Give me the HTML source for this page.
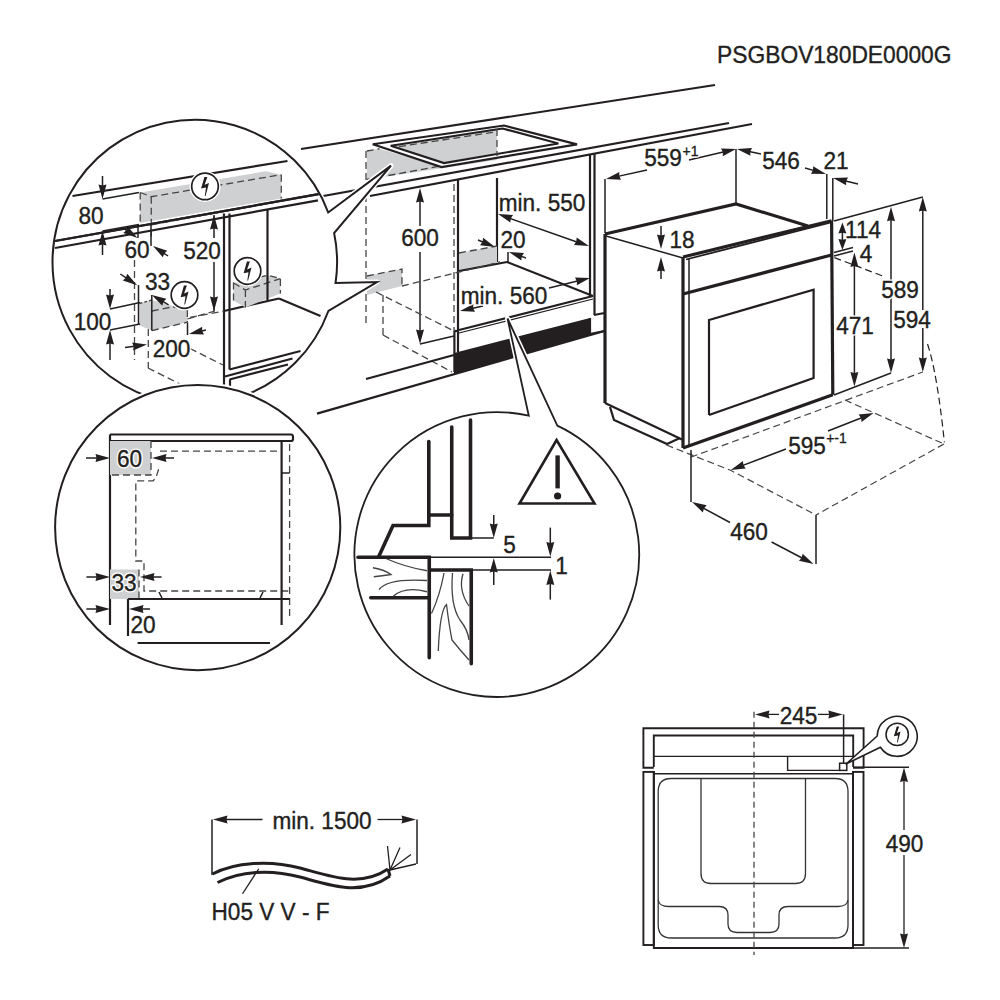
<!DOCTYPE html>
<html><head><meta charset="utf-8"><style>
html,body{margin:0;padding:0;background:#fff;}
svg{display:block;font-family:"Liberation Sans",sans-serif;}
</style></head><body>
<svg width="1000" height="1000" viewBox="0 0 1000 1000">
<rect width="1000" height="1000" fill="#fff"/>
<line x1="301" y1="149" x2="715" y2="85" stroke="#231f20" stroke-width="2.2" stroke-linecap="butt"/>
<line x1="290" y1="202" x2="729" y2="123" stroke="#231f20" stroke-width="2.2" stroke-linecap="butt"/>
<line x1="370" y1="196" x2="752" y2="124" stroke="#231f20" stroke-width="2.2" stroke-linecap="butt"/>
<polygon points="366.75,151 379.5,148.75 441.5,167 497,157 497,160 366.75,179.5" fill="#cfd0d2"/>
<line x1="366.75" y1="151" x2="379.5" y2="148.75" stroke="#454545" stroke-width="1.3" stroke-dasharray="7,4" stroke-linecap="butt"/>
<line x1="366.75" y1="179.5" x2="497" y2="155.5" stroke="#454545" stroke-width="1.3" stroke-dasharray="7,4" stroke-linecap="butt"/>
<polygon points="372.75,144.25 504,125.5 577,144.4 441.5,167" fill="#fff" stroke="#231f20" stroke-width="2.2" stroke-linejoin="miter"/>
<polygon points="390.75,145.75 497,128.3 497,152.8 444,163" fill="#cfd0d2"/>
<polygon points="390.75,145.75 502.5,128.5 558.4,143.5 444,163" fill="none" stroke="#231f20" stroke-width="2.2" stroke-linejoin="miter"/>
<line x1="399" y1="146.6" x2="495" y2="132" stroke="#454545" stroke-width="1.3" stroke-dasharray="7,4" stroke-linecap="butt"/>
<line x1="497" y1="129" x2="497" y2="156" stroke="#454545" stroke-width="1.3" stroke-dasharray="7,4" stroke-linecap="butt"/>
<line x1="366" y1="151" x2="366" y2="323" stroke="#454545" stroke-width="1.3" stroke-dasharray="7,4" stroke-linecap="butt"/>
<line x1="458" y1="180" x2="458" y2="352" stroke="#231f20" stroke-width="2.2" stroke-linecap="butt"/>
<line x1="497" y1="178" x2="497" y2="262" stroke="#231f20" stroke-width="2.2" stroke-linecap="butt"/>
<line x1="590" y1="154" x2="590" y2="296" stroke="#231f20" stroke-width="2.2" stroke-linecap="butt"/>
<line x1="594.5" y1="153" x2="594.5" y2="315" stroke="#231f20" stroke-width="2.2" stroke-linecap="butt"/>
<line x1="590" y1="318" x2="590" y2="335" stroke="#231f20" stroke-width="2.2" stroke-linecap="butt"/>
<line x1="454" y1="184" x2="454" y2="331" stroke="#454545" stroke-width="1.3" stroke-dasharray="7,4" stroke-linecap="butt"/>
<line x1="454.4" y1="331" x2="454.4" y2="372" stroke="#231f20" stroke-width="2.2" stroke-linecap="butt"/>
<line x1="454.4" y1="331" x2="459" y2="331" stroke="#231f20" stroke-width="2.2" stroke-linecap="butt"/>
<polygon points="459,253 497,246 497,264 459,271" fill="#cfd0d2"/>
<line x1="459" y1="253" x2="497" y2="246" stroke="#454545" stroke-width="1.3" stroke-dasharray="7,4" stroke-linecap="butt"/>
<line x1="459" y1="271" x2="507" y2="262" stroke="#231f20" stroke-width="2.2" stroke-linecap="butt"/>
<line x1="507" y1="262" x2="593" y2="296" stroke="#231f20" stroke-width="2.2" stroke-linecap="butt"/>
<line x1="459" y1="330" x2="593" y2="296" stroke="#231f20" stroke-width="2.2" stroke-linecap="butt"/>
<line x1="459" y1="333" x2="593" y2="299" stroke="#231f20" stroke-width="1.2" stroke-linecap="butt"/>
<polygon points="454,353 590,318 590,335.2 454,374.2" fill="#231f20"/>
<line x1="594" y1="315" x2="604.5" y2="313" stroke="#231f20" stroke-width="2.2" stroke-linecap="butt"/>
<line x1="590" y1="334" x2="604.5" y2="331" stroke="#231f20" stroke-width="2.2" stroke-linecap="butt"/>
<line x1="503" y1="216" x2="584" y2="244.5" stroke="#231f20" stroke-width="1.5" stroke-linecap="butt"/>
<polygon points="498,214 513.01,215.04 510.72,218.47 510.35,222.58" fill="#231f20"/>
<polygon points="589,246 573.99,244.96 576.28,241.53 576.65,237.42" fill="#231f20"/>
<line x1="478" y1="240" x2="486.95530054326997" y2="243.68747669428762" stroke="#231f20" stroke-width="1.5" stroke-linecap="butt"/>
<polygon points="495,247 480.07,245.18 482.53,241.87 483.12,237.78" fill="#231f20"/>
<line x1="526" y1="258" x2="517.2040159021711" y2="254.8955350242957" stroke="#231f20" stroke-width="1.5" stroke-linecap="butt"/>
<polygon points="509,252 524.0,253.05 521.72,256.49 521.34,260.6" fill="#231f20"/>
<line x1="508" y1="252" x2="508" y2="262" stroke="#231f20" stroke-width="1.5" stroke-linecap="butt"/>
<line x1="483" y1="306" x2="468.50143436612836" y2="309.15186209431994" stroke="#231f20" stroke-width="1.5" stroke-linecap="butt"/>
<polygon points="460,311 473.32,304.01 473.18,308.14 475.02,311.83" fill="#231f20"/>
<line x1="549" y1="288" x2="581.5477730525868" y2="280.06151876766177" stroke="#231f20" stroke-width="1.5" stroke-linecap="butt"/>
<polygon points="590,278 576.86,285.32 576.9,281.2 574.97,277.55" fill="#231f20"/>
<line x1="420" y1="226" x2="420.0" y2="196.7" stroke="#231f20" stroke-width="1.5" stroke-linecap="butt"/>
<polygon points="420,188 424.0,202.5 420.0,201.49 416.0,202.5" fill="#231f20"/>
<line x1="420" y1="252" x2="420.0" y2="335.3" stroke="#231f20" stroke-width="1.5" stroke-linecap="butt"/>
<polygon points="420,344 416.0,329.5 420.0,330.51 424.0,329.5" fill="#231f20"/>
<line x1="420" y1="344" x2="454" y2="336" stroke="#231f20" stroke-width="1.5" stroke-linecap="butt"/>
<polygon points="367,276 402,269 402,286 367,295" fill="#cfd0d2"/>
<polyline points="367,276 402,269 402,286" fill="none" stroke="#454545" stroke-width="1.3" stroke-dasharray="7,4" stroke-linejoin="miter"/>
<line x1="402" y1="286" x2="500" y2="262" stroke="#454545" stroke-width="1.3" stroke-dasharray="7,4" stroke-linecap="butt"/>
<line x1="376" y1="292" x2="452" y2="330" stroke="#454545" stroke-width="1.3" stroke-dasharray="7,4" stroke-linecap="butt"/>
<line x1="383" y1="295" x2="383" y2="335" stroke="#454545" stroke-width="1.3" stroke-dasharray="7,4" stroke-linecap="butt"/>
<line x1="383" y1="335" x2="452" y2="372" stroke="#454545" stroke-width="1.3" stroke-dasharray="7,4" stroke-linecap="butt"/>
<line x1="366" y1="379" x2="454" y2="355" stroke="#231f20" stroke-width="2.2" stroke-linecap="butt"/>
<line x1="317" y1="413.6" x2="604.5" y2="331" stroke="#231f20" stroke-width="2.2" stroke-linecap="butt"/>
<polyline points="605,234 736,204 808,226" fill="none" stroke="#231f20" stroke-width="3.2" stroke-linejoin="miter"/>
<line x1="605" y1="234" x2="605" y2="403" stroke="#231f20" stroke-width="3.2" stroke-linecap="butt"/>
<line x1="606" y1="236" x2="683" y2="258" stroke="#231f20" stroke-width="1.5" stroke-linecap="butt"/>
<line x1="661" y1="226" x2="661.0" y2="240.3" stroke="#231f20" stroke-width="1.5" stroke-linecap="butt"/>
<polygon points="661,249 657.0,234.5 661.0,235.51 665.0,234.5" fill="#231f20"/>
<line x1="661" y1="279" x2="661.0" y2="265.7" stroke="#231f20" stroke-width="1.5" stroke-linecap="butt"/>
<polygon points="661,257 665.0,271.5 661.0,270.49 657.0,271.5" fill="#231f20"/>
<line x1="683" y1="257" x2="831.6" y2="220.7" stroke="#231f20" stroke-width="3.2" stroke-linecap="butt"/>
<line x1="683" y1="257" x2="683" y2="448" stroke="#231f20" stroke-width="3.2" stroke-linecap="butt"/>
<line x1="689" y1="259" x2="689" y2="447" stroke="#231f20" stroke-width="1.5" stroke-linecap="butt"/>
<line x1="686" y1="259.5" x2="831" y2="222.3" stroke="#231f20" stroke-width="1.8" stroke-linecap="butt"/>
<line x1="831.6" y1="220.7" x2="832.8" y2="394.8" stroke="#231f20" stroke-width="3.2" stroke-linecap="butt"/>
<line x1="683" y1="294" x2="831.6" y2="255" stroke="#231f20" stroke-width="3.2" stroke-linecap="butt"/>
<line x1="683" y1="448" x2="832.8" y2="394.8" stroke="#231f20" stroke-width="3.2" stroke-linecap="butt"/>
<polyline points="709,415 709,320 813.6,289.6 813.6,378 709,415" fill="none" stroke="#231f20" stroke-width="2.2" stroke-linejoin="miter"/>
<polyline points="610,407 614,420 667,444 680,438" fill="none" stroke="#231f20" stroke-width="2.2" stroke-linejoin="miter"/>
<line x1="605" y1="403" x2="682" y2="439.5" stroke="#231f20" stroke-width="2.2" stroke-linecap="butt"/>
<line x1="605" y1="179" x2="605" y2="233" stroke="#231f20" stroke-width="1.5" stroke-linecap="butt"/>
<line x1="647" y1="170" x2="614.4976757855953" y2="177.1346565348693" stroke="#231f20" stroke-width="1.5" stroke-linecap="butt"/>
<polygon points="606,179 619.31,171.98 619.17,176.11 621.02,179.8" fill="#231f20"/>
<line x1="689" y1="160" x2="727.5289128444712" y2="150.9825948661876" stroke="#231f20" stroke-width="1.5" stroke-linecap="butt"/>
<polygon points="736,149 722.79,156.2 722.87,152.07 720.97,148.41" fill="#231f20"/>
<line x1="736" y1="149" x2="736" y2="203" stroke="#231f20" stroke-width="1.5" stroke-linecap="butt"/>
<line x1="761" y1="154" x2="745.5171296517171" y2="150.7744020107744" stroke="#231f20" stroke-width="1.5" stroke-linecap="butt"/>
<polygon points="737,149 752.01,148.04 750.2,151.75 750.38,155.87" fill="#231f20"/>
<line x1="805" y1="168" x2="817.6347416555249" y2="171.6099261872928" stroke="#231f20" stroke-width="1.5" stroke-linecap="butt"/>
<polygon points="826,174 810.96,173.86 813.03,170.3 813.16,166.17" fill="#231f20"/>
<line x1="826.8" y1="174" x2="826.8" y2="219" stroke="#231f20" stroke-width="1.5" stroke-linecap="butt"/>
<line x1="858" y1="184" x2="841.4597695272305" y2="180.03034468653533" stroke="#231f20" stroke-width="1.5" stroke-linecap="butt"/>
<polygon points="833,178 848.03,177.49 846.11,181.15 846.17,185.27" fill="#231f20"/>
<line x1="832.8" y1="178" x2="832.8" y2="221" stroke="#231f20" stroke-width="1.5" stroke-linecap="butt"/>
<line x1="842.4" y1="236" x2="842.4" y2="229.0" stroke="#231f20" stroke-width="1.5" stroke-linecap="butt"/>
<polygon points="842.4,222.4 846.4,233.4 842.4,232.63 838.4,233.4" fill="#231f20"/>
<line x1="842.4" y1="236" x2="842.4" y2="243.4" stroke="#231f20" stroke-width="1.5" stroke-linecap="butt"/>
<polygon points="842.4,250 838.4,239.0 842.4,239.77 846.4,239.0" fill="#231f20"/>
<line x1="834" y1="252.4" x2="853" y2="247.6" stroke="#231f20" stroke-width="1.5" stroke-linecap="butt"/>
<line x1="834" y1="256" x2="853" y2="251" stroke="#231f20" stroke-width="1.5" stroke-linecap="butt"/>
<line x1="854.4" y1="316" x2="854.4" y2="261.1" stroke="#231f20" stroke-width="1.5" stroke-linecap="butt"/>
<polygon points="854.4,252.4 858.4,266.9 854.4,265.88 850.4,266.9" fill="#231f20"/>
<line x1="854.4" y1="333" x2="854.4" y2="377.7" stroke="#231f20" stroke-width="1.5" stroke-linecap="butt"/>
<polygon points="854.4,386.4 850.4,371.9 854.4,372.91 858.4,371.9" fill="#231f20"/>
<line x1="834" y1="221" x2="922.8" y2="197" stroke="#231f20" stroke-width="1.5" stroke-linecap="butt"/>
<line x1="891" y1="281" x2="891.0" y2="215.5" stroke="#231f20" stroke-width="1.5" stroke-linecap="butt"/>
<polygon points="891,206.8 895.0,221.3 891.0,220.29 887.0,221.3" fill="#231f20"/>
<line x1="891" y1="298" x2="891.0" y2="364.3" stroke="#231f20" stroke-width="1.5" stroke-linecap="butt"/>
<polygon points="891,373 887.0,358.5 891.0,359.51 895.0,358.5" fill="#231f20"/>
<line x1="922.8" y1="310" x2="922.8" y2="205.7" stroke="#231f20" stroke-width="1.5" stroke-linecap="butt"/>
<polygon points="922.8,197 926.8,211.5 922.8,210.49 918.8,211.5" fill="#231f20"/>
<line x1="922.8" y1="328" x2="922.8" y2="363.3" stroke="#231f20" stroke-width="1.5" stroke-linecap="butt"/>
<polygon points="922.8,372 918.8,357.5 922.8,358.51 926.8,357.5" fill="#231f20"/>
<line x1="834" y1="395" x2="891" y2="373" stroke="#231f20" stroke-width="1.5" stroke-linecap="butt"/>
<line x1="690.8" y1="457.2" x2="922.8" y2="372" stroke="#454545" stroke-width="1.2" stroke-dasharray="7,4" stroke-linecap="butt"/>
<path d="M834.4,257.6 L884,276.5 M927.5,344 Q937,372 944.4,442.4" fill="none" stroke="#231f20" stroke-width="1.2" stroke-dasharray="7,4"/>
<line x1="845" y1="400" x2="944" y2="444" stroke="#454545" stroke-width="1.2" stroke-dasharray="7,4" stroke-linecap="butt"/>
<line x1="944" y1="444" x2="816" y2="515" stroke="#454545" stroke-width="1.2" stroke-dasharray="7,4" stroke-linecap="butt"/>
<polyline points="666.5,445 731,470.5 816,515" fill="none" stroke="#454545" stroke-width="1.2" stroke-dasharray="7,4" stroke-linejoin="miter"/>
<line x1="691" y1="450" x2="691" y2="502" stroke="#231f20" stroke-width="1.5" stroke-linecap="butt"/>
<line x1="816" y1="515" x2="816" y2="564" stroke="#231f20" stroke-width="1.5" stroke-linecap="butt"/>
<line x1="828" y1="431" x2="865.5076495744175" y2="416.19434885220363" stroke="#231f20" stroke-width="1.5" stroke-linecap="butt"/>
<polygon points="873.6,413 861.58,422.04 861.06,417.95 858.64,414.6" fill="#231f20"/>
<line x1="786" y1="449" x2="738.9314426254012" y2="466.90651639251035" stroke="#231f20" stroke-width="1.5" stroke-linecap="butt"/>
<polygon points="730.8,470 742.93,461.11 743.4,465.21 745.77,468.58" fill="#231f20"/>
<line x1="771.6" y1="542" x2="805.8932656430627" y2="559.9631391463662" stroke="#231f20" stroke-width="1.5" stroke-linecap="butt"/>
<polygon points="813.6,564 798.9,560.82 801.65,557.74 802.61,553.73" fill="#231f20"/>
<line x1="730" y1="522.5" x2="699.6568611801852" y2="506.1306751103631" stroke="#231f20" stroke-width="1.5" stroke-linecap="butt"/>
<polygon points="692,502 706.66,505.36 703.87,508.4 702.86,512.4" fill="#231f20"/>
<path d="M334.11,233 A142.3,142.3 0 0 1 335.54,283 L377,282 L328.4,311 A142.3,142.3 0 1 1 328.21,212.5 L391,165.6 Z" fill="#fff" stroke="#fff" stroke-width="5" stroke-linejoin="round"/>
<clipPath id="c1clip"><path d="M334.11,233 A142.3,142.3 0 0 1 335.54,283 L377,282 L328.4,311 A142.3,142.3 0 1 1 328.21,212.5 L391,165.6 Z"/></clipPath>
<g clip-path="url(#c1clip)">
<line x1="72.5" y1="196" x2="287.5" y2="161" stroke="#231f20" stroke-width="2.2" stroke-linecap="butt"/>
<line x1="55" y1="241" x2="318.5" y2="194.2" stroke="#231f20" stroke-width="2.2" stroke-linecap="butt"/>
<line x1="55" y1="248" x2="318" y2="200.3" stroke="#231f20" stroke-width="2.2" stroke-linecap="butt"/>
<polygon points="140.2,192.5 266,171.25 281.3,174.65 281.3,198.45 140.2,223" fill="#cfd0d2"/>
<line x1="140.2" y1="192.5" x2="140.2" y2="223" stroke="#454545" stroke-width="1.3" stroke-dasharray="7,4" stroke-linecap="butt"/>
<line x1="281.3" y1="174.65" x2="281.3" y2="198.45" stroke="#454545" stroke-width="1.3" stroke-dasharray="7,4" stroke-linecap="butt"/>
<polyline points="140.2,192.5 151.25,196.75 281.3,174.65" fill="none" stroke="#454545" stroke-width="1.3" stroke-dasharray="7,4" stroke-linejoin="miter"/>
<line x1="151.25" y1="196.75" x2="151.25" y2="238" stroke="#454545" stroke-width="1.3" stroke-dasharray="7,4" stroke-linecap="butt"/>
<line x1="151.25" y1="224.8" x2="281.3" y2="201" stroke="#454545" stroke-width="1.3" stroke-dasharray="7,4" stroke-linecap="butt"/>
<line x1="55" y1="241" x2="318.5" y2="194.2" stroke="#231f20" stroke-width="2.2" stroke-linecap="butt"/>
<circle cx="205" cy="186.4" r="15.5" fill="#fff"/>
<circle cx="205" cy="186.4" r="13.3" fill="#fff" stroke="#231f20" stroke-width="1.7"/>
<polygon points="204.4,177.0 207.4,177.0 204.6,184.8 209.0,183.0 205.6,196.0 204.8,196.0 206.0,187.6 201.1,188.6" fill="#231f20"/>
<line x1="102.5" y1="176" x2="102.5" y2="190.3" stroke="#231f20" stroke-width="1.5" stroke-linecap="butt"/>
<polygon points="102.5,199 98.5,184.5 102.5,185.51 106.5,184.5" fill="#231f20"/>
<line x1="102.5" y1="199" x2="139" y2="192.5" stroke="#231f20" stroke-width="1.5" stroke-linecap="butt"/>
<line x1="102.5" y1="255" x2="102.5" y2="239.7" stroke="#231f20" stroke-width="1.5" stroke-linecap="butt"/>
<polygon points="102.5,231 106.5,245.5 102.5,244.49 98.5,245.5" fill="#231f20"/>
<line x1="102.5" y1="231" x2="139" y2="224.5" stroke="#231f20" stroke-width="1.5" stroke-linecap="butt"/>
<line x1="123" y1="228" x2="130.33804876253683" y2="233.06072328450816" stroke="#231f20" stroke-width="1.5" stroke-linecap="butt"/>
<polygon points="137.5,238 123.29,233.06 126.4,230.34 127.83,226.48" fill="#231f20"/>
<line x1="138" y1="225" x2="138" y2="238" stroke="#231f20" stroke-width="1.5" stroke-linecap="butt"/>
<line x1="168" y1="256" x2="160.23883756073923" y2="250.82589170715949" stroke="#231f20" stroke-width="1.5" stroke-linecap="butt"/>
<polygon points="153,246 167.28,250.71 164.22,253.48 162.85,257.37" fill="#231f20"/>
<line x1="151" y1="225" x2="151" y2="246" stroke="#231f20" stroke-width="1.5" stroke-linecap="butt"/>
<line x1="214" y1="215" x2="214" y2="238" stroke="#231f20" stroke-width="1.5" stroke-linecap="butt"/>
<polygon points="214,215 218.0,229.5 214.0,228.49 210.0,229.5" fill="#231f20"/>
<line x1="214" y1="262" x2="214" y2="311" stroke="#231f20" stroke-width="1.5" stroke-linecap="butt"/>
<polygon points="214,311 210.0,296.5 214.0,297.51 218.0,296.5" fill="#231f20"/>
<line x1="224" y1="213.5" x2="224" y2="385" stroke="#231f20" stroke-width="2.2" stroke-linecap="butt"/>
<line x1="229.5" y1="213.5" x2="229.5" y2="369.5" stroke="#231f20" stroke-width="2.2" stroke-linecap="butt"/>
<line x1="230" y1="379.5" x2="230" y2="386.5" stroke="#231f20" stroke-width="2.2" stroke-linecap="butt"/>
<line x1="224" y1="311" x2="279" y2="298.5" stroke="#231f20" stroke-width="2.2" stroke-linecap="butt"/>
<line x1="279" y1="298.5" x2="320.5" y2="316" stroke="#231f20" stroke-width="2.2" stroke-linecap="butt"/>
<line x1="190" y1="317.5" x2="224" y2="311" stroke="#454545" stroke-width="1.3" stroke-dasharray="7,4" stroke-linecap="butt"/>
<polygon points="233.5,283 267.8,275.2 280.4,278.7 280.4,293.4 245.4,307.4 233.5,300.4" fill="#cfd0d2"/>
<polyline points="233.5,300.4 233.5,283 267.8,275.2 280.4,278.7 280.4,293.4" fill="none" stroke="#454545" stroke-width="1.3" stroke-dasharray="7,4" stroke-linejoin="miter"/>
<polyline points="233.5,283 245.4,290 280.4,278.7" fill="none" stroke="#454545" stroke-width="1.3" stroke-dasharray="7,4" stroke-linejoin="miter"/>
<line x1="245.4" y1="290" x2="245.4" y2="307.4" stroke="#454545" stroke-width="1.3" stroke-dasharray="7,4" stroke-linecap="butt"/>
<line x1="267.5" y1="210" x2="267.5" y2="300.4" stroke="#231f20" stroke-width="2.2" stroke-linecap="butt"/>
<circle cx="247.5" cy="271" r="15.3" fill="#fff"/>
<circle cx="247.5" cy="271" r="13.3" fill="#fff" stroke="#231f20" stroke-width="1.7"/>
<polygon points="246.9,261.6 249.9,261.6 247.1,269.4 251.5,267.6 248.1,280.6 247.3,280.6 248.5,272.2 243.6,273.2" fill="#231f20"/>
<line x1="229.5" y1="369.5" x2="300.5" y2="351" stroke="#231f20" stroke-width="2.2" stroke-linecap="butt"/>
<line x1="225" y1="376.5" x2="292.5" y2="358.5" stroke="#231f20" stroke-width="2.2" stroke-linecap="butt"/>
<line x1="229.5" y1="379.5" x2="288" y2="364.5" stroke="#231f20" stroke-width="2.2" stroke-linecap="butt"/>
<line x1="134.5" y1="260" x2="134.5" y2="360" stroke="#454545" stroke-width="1.3" stroke-dasharray="7,4" stroke-linecap="butt"/>
<line x1="148.3" y1="329" x2="148.3" y2="368" stroke="#454545" stroke-width="1.3" stroke-dasharray="7,4" stroke-linecap="butt"/>
<line x1="148" y1="368" x2="181" y2="384.5" stroke="#454545" stroke-width="1.3" stroke-dasharray="7,4" stroke-linecap="butt"/>
<line x1="190" y1="348.5" x2="223" y2="365" stroke="#454545" stroke-width="1.3" stroke-dasharray="7,4" stroke-linecap="butt"/>
<polygon points="139.5,303.5 151.8,300 187.4,310 187.4,322.2 151.8,330.6 139.5,325.5" fill="#cfd0d2"/>
<line x1="139.5" y1="303.5" x2="151.8" y2="300" stroke="#454545" stroke-width="1.3" stroke-dasharray="3,2" stroke-linecap="butt"/>
<line x1="151.8" y1="311" x2="173" y2="306.8" stroke="#454545" stroke-width="1.3" stroke-dasharray="7,4" stroke-linecap="butt"/>
<line x1="173" y1="306.8" x2="187.4" y2="310" stroke="#454545" stroke-width="1.3" stroke-dasharray="7,4" stroke-linecap="butt"/>
<line x1="187.4" y1="310" x2="187.4" y2="322.2" stroke="#454545" stroke-width="1.3" stroke-dasharray="7,4" stroke-linecap="butt"/>
<line x1="151.8" y1="330.6" x2="187.4" y2="322.2" stroke="#454545" stroke-width="1.3" stroke-dasharray="7,4" stroke-linecap="butt"/>
<line x1="151.8" y1="295" x2="151.8" y2="330.6" stroke="#231f20" stroke-width="1.5" stroke-linecap="butt"/>
<line x1="187.4" y1="319" x2="215" y2="311" stroke="#454545" stroke-width="1.3" stroke-dasharray="7,4" stroke-linecap="butt"/>
<circle cx="184.5" cy="295" r="15.5" fill="#fff"/>
<circle cx="184.5" cy="295" r="13.3" fill="#fff" stroke="#231f20" stroke-width="1.7"/>
<polygon points="183.9,285.6 186.9,285.6 184.1,293.4 188.5,291.6 185.1,304.6 184.3,304.6 185.5,296.2 180.6,297.2" fill="#231f20"/>
<line x1="120.3" y1="274" x2="129.86116243926074" y2="280.3741082928405" stroke="#231f20" stroke-width="1.5" stroke-linecap="butt"/>
<polygon points="137.1,285.2 122.82,280.49 125.88,277.72 127.25,273.83" fill="#231f20"/>
<line x1="138.5" y1="285" x2="138.5" y2="325" stroke="#231f20" stroke-width="1.5" stroke-linecap="butt"/>
<line x1="168.6" y1="304.8" x2="159.31487643781637" y2="299.3836779220596" stroke="#231f20" stroke-width="1.5" stroke-linecap="butt"/>
<polygon points="151.8,295 166.34,298.85 163.45,301.79 162.31,305.76" fill="#231f20"/>
<line x1="110" y1="289" x2="110.0" y2="300.3" stroke="#231f20" stroke-width="1.5" stroke-linecap="butt"/>
<polygon points="110,309 106.0,294.5 110.0,295.51 114.0,294.5" fill="#231f20"/>
<line x1="110" y1="309" x2="140" y2="302.5" stroke="#231f20" stroke-width="1.5" stroke-linecap="butt"/>
<line x1="110" y1="360" x2="110.0" y2="338.7" stroke="#231f20" stroke-width="1.5" stroke-linecap="butt"/>
<polygon points="110,330 114.0,344.5 110.0,343.49 106.0,344.5" fill="#231f20"/>
<line x1="110" y1="330" x2="140" y2="324" stroke="#231f20" stroke-width="1.5" stroke-linecap="butt"/>
<line x1="125" y1="347.5" x2="138.3797775380146" y2="345.67548488117984" stroke="#231f20" stroke-width="1.5" stroke-linecap="butt"/>
<polygon points="147,344.5 133.17,350.42 133.64,346.32 132.09,342.5" fill="#231f20"/>
<line x1="206" y1="330" x2="197.4687293645021" y2="332.0073577965877" stroke="#231f20" stroke-width="1.5" stroke-linecap="butt"/>
<polygon points="189,334 202.2,326.79 202.13,330.91 204.03,334.57" fill="#231f20"/>
<line x1="187.5" y1="322.5" x2="187.5" y2="335" stroke="#231f20" stroke-width="1.5" stroke-linecap="butt"/>
</g>
<path d="M334.11,233 A142.3,142.3 0 0 1 335.54,283 L377,282 L328.4,311 A142.3,142.3 0 1 1 328.21,212.5 L391,165.6 Z" fill="none" stroke="#231f20" stroke-width="2"/>
<circle cx="197.7" cy="527.6" r="145.6" fill="#fff"/>
<circle cx="197.7" cy="527.6" r="142.6" fill="#fff" stroke="#231f20" stroke-width="2"/>
<path d="M110,434.5 H291 Q293,434.5 293,437 V439 Q293,441 291,441 H110" fill="none" stroke="#231f20" stroke-width="2.2"/>
<line x1="110" y1="434.5" x2="110" y2="625" stroke="#231f20" stroke-width="2.2" stroke-linecap="butt"/>
<polygon points="110,441 151,441 151,475 110,475" fill="#cfd0d2"/>
<polyline points="151,441 151,475 110,475" fill="none" stroke="#454545" stroke-width="1.3" stroke-dasharray="7,4" stroke-linejoin="miter"/>
<line x1="86" y1="458" x2="101.3" y2="458.0" stroke="#231f20" stroke-width="1.5" stroke-linecap="butt"/>
<polygon points="110,458 95.5,462.0 96.52,458.0 95.5,454.0" fill="#231f20"/>
<line x1="174" y1="458" x2="160.7" y2="458.0" stroke="#231f20" stroke-width="1.5" stroke-linecap="butt"/>
<polygon points="152,458 166.5,454.0 165.49,458.0 166.5,462.0" fill="#231f20"/>
<polyline points="160,451.2 281.6,451.2" fill="none" stroke="#454545" stroke-width="1.3" stroke-dasharray="7,4" stroke-linejoin="miter"/>
<polyline points="158.6,469.2 155.8,478 153,480.8 135.8,480.8 135.8,561 144,561 144,591 290,591" fill="none" stroke="#454545" stroke-width="1.3" stroke-dasharray="7,4" stroke-linejoin="miter"/>
<line x1="281.6" y1="441" x2="281.6" y2="625" stroke="#231f20" stroke-width="2.2" stroke-linecap="butt"/>
<line x1="289.6" y1="444" x2="289.6" y2="620" stroke="#454545" stroke-width="1.3" stroke-dasharray="7,4" stroke-linecap="butt"/>
<line x1="281.6" y1="473" x2="289.6" y2="473" stroke="#231f20" stroke-width="1.5" stroke-linecap="butt"/>
<polygon points="110,569.5 139,569.5 139,599 110,599" fill="#cfd0d2"/>
<polyline points="139,569.5 139,599" fill="none" stroke="#454545" stroke-width="1.3" stroke-dasharray="7,4" stroke-linejoin="miter"/>
<line x1="86.4" y1="577" x2="101.3" y2="577.0" stroke="#231f20" stroke-width="1.5" stroke-linecap="butt"/>
<polygon points="110,577 95.5,581.0 96.52,577.0 95.5,573.0" fill="#231f20"/>
<line x1="161.6" y1="577" x2="148.7" y2="577.0" stroke="#231f20" stroke-width="1.5" stroke-linecap="butt"/>
<polygon points="140,577 154.5,573.0 153.49,577.0 154.5,581.0" fill="#231f20"/>
<line x1="128" y1="599" x2="289.6" y2="599" stroke="#231f20" stroke-width="2.2" stroke-linecap="butt"/>
<line x1="128" y1="599" x2="128" y2="636" stroke="#231f20" stroke-width="2.2" stroke-linecap="butt"/>
<line x1="159" y1="592" x2="162" y2="598" stroke="#231f20" stroke-width="1.5" stroke-linecap="butt"/>
<line x1="263" y1="592" x2="260" y2="598" stroke="#231f20" stroke-width="1.5" stroke-linecap="butt"/>
<line x1="86.4" y1="609" x2="101.3" y2="609.0" stroke="#231f20" stroke-width="1.5" stroke-linecap="butt"/>
<polygon points="110,609 95.5,613.0 96.52,609.0 95.5,605.0" fill="#231f20"/>
<line x1="150" y1="609" x2="137.7" y2="609.0" stroke="#231f20" stroke-width="1.5" stroke-linecap="butt"/>
<polygon points="129,609 143.5,605.0 142.49,609.0 143.5,613.0" fill="#231f20"/>
<line x1="137.6" y1="643" x2="270" y2="643" stroke="#231f20" stroke-width="2.2" stroke-linecap="butt"/>
<path d="M557.3,425.59 A142.4,142.4 0 1 1 528.8,415.74 L507.5,318.5 Z" fill="#fff" stroke="#fff" stroke-width="5" stroke-linejoin="round"/>
<path d="M557.3,425.59 A142.4,142.4 0 1 1 528.8,415.74 L507.5,318.5 Z" fill="#fff" stroke="#231f20" stroke-width="1.8"/>
<polygon points="556.6,440 519.5,503.5 594.5,503.5" fill="none" stroke="#231f20" stroke-width="2.6" stroke-linejoin="miter"/>
<rect x="555.4" y="455.4" width="4.4" height="33" fill="#231f20"/>
<circle cx="557.6" cy="496" r="3.6" fill="#231f20"/>
<g fill="none" stroke="#231f20" stroke-width="3.6" stroke-linecap="round" stroke-linejoin="miter">
<polyline points="428.8,441.5 428.8,525.5 393,525.5 379,556"/>
<polyline points="428.8,515 451.75,515"/>
<polyline points="451.75,427 451.75,538 470.5,538 470.5,420"/>
<polyline points="358,557.25 429.25,557.25 429.25,657.75"/>
<polyline points="370.75,597.75 429.25,597.75"/>
<polyline points="430.75,570 471.25,570 471.25,663.75"/>
</g>
<g fill="none" stroke="#444" stroke-width="1.3">
<path d="M386.5,558.75 Q405,567 427,570.75"/>
<path d="M373,567.75 Q385,570 391,574.5 Q382,576 373.75,576.75"/>
<path d="M379,589.5 Q388,578 427,580.5"/>
<path d="M393.25,596.25 Q405,586 427,591.75"/>
<path d="M444,573 Q440,595 431.5,613.5"/>
<path d="M452.5,573 Q450,605 460,620 Q468,630 469,640"/>
<path d="M463,573.75 Q458,590 469,606"/>
<path d="M438.25,651 Q440,610 446.5,604.5 Q449,625 452,640 Q460,650 469,660"/>
</g>
<line x1="470.5" y1="538" x2="493.75" y2="538" stroke="#231f20" stroke-width="1.5" stroke-linecap="butt"/>
<line x1="493.75" y1="515" x2="493.75" y2="529.3" stroke="#231f20" stroke-width="1.5" stroke-linecap="butt"/>
<polygon points="493.75,538 489.75,523.5 493.75,524.51 497.75,523.5" fill="#231f20"/>
<line x1="493.75" y1="585" x2="493.75" y2="566.7" stroke="#231f20" stroke-width="1.5" stroke-linecap="butt"/>
<polygon points="493.75,558 497.75,572.5 493.75,571.49 489.75,572.5" fill="#231f20"/>
<line x1="429.25" y1="557.25" x2="551" y2="557.25" stroke="#231f20" stroke-width="1.5" stroke-linecap="butt"/>
<line x1="471.25" y1="570" x2="551" y2="570" stroke="#231f20" stroke-width="1.5" stroke-linecap="butt"/>
<line x1="550.3" y1="527.6" x2="550.3" y2="547.9" stroke="#231f20" stroke-width="1.5" stroke-linecap="butt"/>
<polygon points="550.3,556.6 546.3,542.1 550.3,543.12 554.3,542.1" fill="#231f20"/>
<line x1="550.3" y1="599.6" x2="550.3" y2="579.3000000000001" stroke="#231f20" stroke-width="1.5" stroke-linecap="butt"/>
<polygon points="550.3,570.6 554.3,585.1 550.3,584.09 546.3,585.1" fill="#231f20"/>
<line x1="212" y1="819.5" x2="212" y2="875" stroke="#231f20" stroke-width="1.5" stroke-linecap="butt"/>
<line x1="417" y1="819.5" x2="417" y2="864" stroke="#231f20" stroke-width="1.5" stroke-linecap="butt"/>
<line x1="262.5" y1="819.5" x2="221.7" y2="819.5" stroke="#231f20" stroke-width="1.3" stroke-linecap="butt"/>
<polygon points="213,819.5 227.5,815.5 226.49,819.5 227.5,823.5" fill="#231f20"/>
<line x1="377.5" y1="819.5" x2="407.3" y2="819.5" stroke="#231f20" stroke-width="1.3" stroke-linecap="butt"/>
<polygon points="416,819.5 401.5,823.5 402.51,819.5 401.5,815.5" fill="#231f20"/>
<path d="M212.5,874 C235,862 270,860 300,868 S360,888 388,869" fill="none" stroke="#231f20" stroke-width="3"/>
<path d="M217.5,882.5 C240,871 270,869 300,877 S360,897 390,876" fill="none" stroke="#231f20" stroke-width="3"/>
<line x1="388" y1="869" x2="390" y2="876" stroke="#231f20" stroke-width="3" stroke-linecap="butt"/>
<polyline points="387.5,846 390,870 400,847.5" fill="none" stroke="#231f20" stroke-width="1.3" stroke-linejoin="miter"/>
<polyline points="411,854.5 390,870 416,864" fill="none" stroke="#231f20" stroke-width="1.3" stroke-linejoin="miter"/>
<line x1="258.75" y1="868.75" x2="242.5" y2="893.75" stroke="#231f20" stroke-width="1.3" stroke-linecap="butt"/>
<g fill="none" stroke="#231f20" stroke-width="1.9">
<path d="M653.8,767.8 H643.4 V728.2 H863.6 V767.8 H853"/>
<path d="M653.8,767 V735.5 H853.2 V767"/>
<rect x="643.4" y="771.9" width="10.4" height="173.1"/>
<rect x="853" y="771.9" width="10.5" height="173.1"/>
<path d="M653.8,771 V948 H853 V771"/>
</g>
<line x1="653.8" y1="756.4" x2="853.2" y2="756.4" stroke="#231f20" stroke-width="1.4" stroke-linecap="butt"/>
<line x1="653.8" y1="773.8" x2="853.2" y2="773.8" stroke="#231f20" stroke-width="1.6" stroke-linecap="butt"/>
<polyline points="787.6,756.4 787.6,770.4 846.8,770.4" fill="none" stroke="#231f20" stroke-width="1.4" stroke-linejoin="miter"/>
<rect x="839.6" y="763.2" width="7.2" height="7.2" fill="#fff" stroke="#231f20" stroke-width="1.5"/>
<g fill="none" stroke="#333" stroke-width="1.3">
<path d="M658.2,791.6 Q658.2,778.5 671.2,778.5 H835 Q848,778.5 848,791.6 V925 Q848,938 835,938 H671.2 Q658.2,938 658.2,925 Z"/>
<path d="M701,778.5 V873.5 Q701,883.5 711,883.5 H795.5 Q805.5,883.5 805.5,873.5 V778.5"/>
<path d="M658.2,900 Q659,906.5 669,906.5 H719 Q728,906.5 728,915 V924 Q728,932.5 737,932.5 H770 Q779,932.5 779,924 V915 Q779,906.5 788,906.5 H838 Q847,906.5 848,900"/>
</g>
<line x1="754" y1="711.7" x2="754" y2="955" stroke="#454545" stroke-width="1.3" stroke-dasharray="6,4" stroke-linecap="butt"/>
<line x1="779" y1="714.4" x2="763.7" y2="714.4" stroke="#231f20" stroke-width="1.3" stroke-linecap="butt"/>
<polygon points="755,714.4 769.5,710.4 768.49,714.4 769.5,718.4" fill="#231f20"/>
<line x1="818" y1="714.4" x2="834.0999999999999" y2="714.4" stroke="#231f20" stroke-width="1.3" stroke-linecap="butt"/>
<polygon points="842.8,714.4 828.3,718.4 829.31,714.4 828.3,710.4" fill="#231f20"/>
<line x1="843.6" y1="714.4" x2="843.6" y2="763.2" stroke="#231f20" stroke-width="1.5" stroke-linecap="butt"/>
<line x1="853" y1="767.2" x2="909" y2="767.2" stroke="#231f20" stroke-width="1.5" stroke-linecap="butt"/>
<line x1="853" y1="948" x2="909" y2="948" stroke="#231f20" stroke-width="1.5" stroke-linecap="butt"/>
<line x1="904" y1="830" x2="904.0" y2="776.2" stroke="#231f20" stroke-width="1.3" stroke-linecap="butt"/>
<polygon points="904,767.5 908.0,782.0 904.0,780.99 900.0,782.0" fill="#231f20"/>
<line x1="904" y1="855" x2="904.0" y2="939.3" stroke="#231f20" stroke-width="1.3" stroke-linecap="butt"/>
<polygon points="904,948 900.0,933.5 904.0,934.51 908.0,933.5" fill="#231f20"/>
<path d="M846,764 L877.2,736 A20,20 0 1 1 880.4,747.2 Z" fill="#fff" stroke="#231f20" stroke-width="1.6" stroke-linejoin="round"/>
<circle cx="897.2" cy="734.4" r="11.2" fill="#fff"/>
<circle cx="897.2" cy="734.4" r="11.2" fill="#fff" stroke="#231f20" stroke-width="1.5"/>
<polygon points="896.69,726.48 899.22,726.48 896.86,733.05 900.57,731.54 897.71,742.48 897.03,742.48 898.04,735.41 893.92,736.25" fill="#231f20"/>
<text transform="translate(834.3,62.6) scale(1,1.07)" font-size="22.8" text-anchor="middle" fill="#fff" stroke="#fff" stroke-width="3" stroke-linejoin="round">PSGBOV180DE0000G</text>
<text transform="translate(834.3,62.6) scale(1,1.07)" font-size="22.8" text-anchor="middle" fill="#231f20" stroke="#231f20" stroke-width="0.35">PSGBOV180DE0000G</text>
<text transform="translate(542,211) scale(1,1.05)" font-size="22.6" text-anchor="middle" fill="#fff" stroke="#fff" stroke-width="3" stroke-linejoin="round">min. 550</text>
<text transform="translate(542,211) scale(1,1.05)" font-size="22.6" text-anchor="middle" fill="#231f20" stroke="#231f20" stroke-width="0.35">min. 550</text>
<text transform="translate(513,248) scale(1,1.05)" font-size="22.6" text-anchor="middle" fill="#fff" stroke="#fff" stroke-width="3" stroke-linejoin="round">20</text>
<text transform="translate(513,248) scale(1,1.05)" font-size="22.6" text-anchor="middle" fill="#231f20" stroke="#231f20" stroke-width="0.35">20</text>
<text transform="translate(504,304) scale(1,1.05)" font-size="22.6" text-anchor="middle" fill="#fff" stroke="#fff" stroke-width="3" stroke-linejoin="round">min. 560</text>
<text transform="translate(504,304) scale(1,1.05)" font-size="22.6" text-anchor="middle" fill="#231f20" stroke="#231f20" stroke-width="0.35">min. 560</text>
<text transform="translate(420,246) scale(1,1.05)" font-size="22.6" text-anchor="middle" fill="#fff" stroke="#fff" stroke-width="3" stroke-linejoin="round">600</text>
<text transform="translate(420,246) scale(1,1.05)" font-size="22.6" text-anchor="middle" fill="#231f20" stroke="#231f20" stroke-width="0.35">600</text>
<text transform="translate(682,248) scale(1,1.05)" font-size="22.6" text-anchor="middle" fill="#fff" stroke="#fff" stroke-width="3" stroke-linejoin="round">18</text>
<text transform="translate(682,248) scale(1,1.05)" font-size="22.6" text-anchor="middle" fill="#231f20" stroke="#231f20" stroke-width="0.35">18</text>
<text transform="translate(663,166) scale(1,1.05)" font-size="22.6" text-anchor="middle" fill="#fff" stroke="#fff" stroke-width="3" stroke-linejoin="round">559</text>
<text transform="translate(663,166) scale(1,1.05)" font-size="22.6" text-anchor="middle" fill="#231f20" stroke="#231f20" stroke-width="0.35">559</text>
<text transform="translate(690.5,155.5) scale(1,1.05)" font-size="14" text-anchor="middle" fill="#fff" stroke="#fff" stroke-width="3" stroke-linejoin="round">+1</text>
<text transform="translate(690.5,155.5) scale(1,1.05)" font-size="14" text-anchor="middle" fill="#231f20" stroke="#231f20" stroke-width="0.35">+1</text>
<text transform="translate(781,169) scale(1,1.05)" font-size="22.6" text-anchor="middle" fill="#fff" stroke="#fff" stroke-width="3" stroke-linejoin="round">546</text>
<text transform="translate(781,169) scale(1,1.05)" font-size="22.6" text-anchor="middle" fill="#231f20" stroke="#231f20" stroke-width="0.35">546</text>
<text transform="translate(836,169) scale(1,1.05)" font-size="22.6" text-anchor="middle" fill="#fff" stroke="#fff" stroke-width="3" stroke-linejoin="round">21</text>
<text transform="translate(836,169) scale(1,1.05)" font-size="22.6" text-anchor="middle" fill="#231f20" stroke="#231f20" stroke-width="0.35">21</text>
<text transform="translate(863,238) scale(1,1.05)" font-size="22.6" text-anchor="middle" fill="#fff" stroke="#fff" stroke-width="3" stroke-linejoin="round">114</text>
<text transform="translate(863,238) scale(1,1.05)" font-size="22.6" text-anchor="middle" fill="#231f20" stroke="#231f20" stroke-width="0.35">114</text>
<text transform="translate(866,262) scale(1,1.05)" font-size="22.6" text-anchor="middle" fill="#fff" stroke="#fff" stroke-width="3" stroke-linejoin="round">4</text>
<text transform="translate(866,262) scale(1,1.05)" font-size="22.6" text-anchor="middle" fill="#231f20" stroke="#231f20" stroke-width="0.35">4</text>
<text transform="translate(855,334) scale(1,1.05)" font-size="22.6" text-anchor="middle" fill="#fff" stroke="#fff" stroke-width="3" stroke-linejoin="round">471</text>
<text transform="translate(855,334) scale(1,1.05)" font-size="22.6" text-anchor="middle" fill="#231f20" stroke="#231f20" stroke-width="0.35">471</text>
<text transform="translate(900,298) scale(1,1.05)" font-size="22.6" text-anchor="middle" fill="#fff" stroke="#fff" stroke-width="3" stroke-linejoin="round">589</text>
<text transform="translate(900,298) scale(1,1.05)" font-size="22.6" text-anchor="middle" fill="#231f20" stroke="#231f20" stroke-width="0.35">589</text>
<text transform="translate(912,328) scale(1,1.05)" font-size="22.6" text-anchor="middle" fill="#fff" stroke="#fff" stroke-width="3" stroke-linejoin="round">594</text>
<text transform="translate(912,328) scale(1,1.05)" font-size="22.6" text-anchor="middle" fill="#231f20" stroke="#231f20" stroke-width="0.35">594</text>
<text transform="translate(807,454) scale(1,1.05)" font-size="22.6" text-anchor="middle" fill="#fff" stroke="#fff" stroke-width="3" stroke-linejoin="round">595</text>
<text transform="translate(807,454) scale(1,1.05)" font-size="22.6" text-anchor="middle" fill="#231f20" stroke="#231f20" stroke-width="0.35">595</text>
<text transform="translate(836.5,442.5) scale(1,1.05)" font-size="14" text-anchor="middle" fill="#fff" stroke="#fff" stroke-width="3" stroke-linejoin="round">+-1</text>
<text transform="translate(836.5,442.5) scale(1,1.05)" font-size="14" text-anchor="middle" fill="#231f20" stroke="#231f20" stroke-width="0.35">+-1</text>
<text transform="translate(749,540) scale(1,1.05)" font-size="22.6" text-anchor="middle" fill="#fff" stroke="#fff" stroke-width="3" stroke-linejoin="round">460</text>
<text transform="translate(749,540) scale(1,1.05)" font-size="22.6" text-anchor="middle" fill="#231f20" stroke="#231f20" stroke-width="0.35">460</text>
<text transform="translate(91,224) scale(1,1.05)" font-size="22.6" text-anchor="middle" fill="#fff" stroke="#fff" stroke-width="3" stroke-linejoin="round">80</text>
<text transform="translate(91,224) scale(1,1.05)" font-size="22.6" text-anchor="middle" fill="#231f20" stroke="#231f20" stroke-width="0.35">80</text>
<text transform="translate(137,258) scale(1,1.05)" font-size="22.6" text-anchor="middle" fill="#fff" stroke="#fff" stroke-width="3" stroke-linejoin="round">60</text>
<text transform="translate(137,258) scale(1,1.05)" font-size="22.6" text-anchor="middle" fill="#231f20" stroke="#231f20" stroke-width="0.35">60</text>
<text transform="translate(202,259) scale(1,1.05)" font-size="22.6" text-anchor="middle" fill="#fff" stroke="#fff" stroke-width="3" stroke-linejoin="round">520</text>
<text transform="translate(202,259) scale(1,1.05)" font-size="22.6" text-anchor="middle" fill="#231f20" stroke="#231f20" stroke-width="0.35">520</text>
<text transform="translate(157.5,290) scale(1,1.05)" font-size="22.6" text-anchor="middle" fill="#fff" stroke="#fff" stroke-width="3" stroke-linejoin="round">33</text>
<text transform="translate(157.5,290) scale(1,1.05)" font-size="22.6" text-anchor="middle" fill="#231f20" stroke="#231f20" stroke-width="0.35">33</text>
<text transform="translate(92.5,330) scale(1,1.05)" font-size="22.6" text-anchor="middle" fill="#fff" stroke="#fff" stroke-width="3" stroke-linejoin="round">100</text>
<text transform="translate(92.5,330) scale(1,1.05)" font-size="22.6" text-anchor="middle" fill="#231f20" stroke="#231f20" stroke-width="0.35">100</text>
<text transform="translate(171.5,357) scale(1,1.05)" font-size="22.6" text-anchor="middle" fill="#fff" stroke="#fff" stroke-width="3" stroke-linejoin="round">200</text>
<text transform="translate(171.5,357) scale(1,1.05)" font-size="22.6" text-anchor="middle" fill="#231f20" stroke="#231f20" stroke-width="0.35">200</text>
<text transform="translate(129.6,467) scale(1,1.05)" font-size="22.6" text-anchor="middle" fill="#fff" stroke="#fff" stroke-width="3" stroke-linejoin="round">60</text>
<text transform="translate(129.6,467) scale(1,1.05)" font-size="22.6" text-anchor="middle" fill="#231f20" stroke="#231f20" stroke-width="0.35">60</text>
<text transform="translate(124,591) scale(1,1.05)" font-size="22.6" text-anchor="middle" fill="#fff" stroke="#fff" stroke-width="3" stroke-linejoin="round">33</text>
<text transform="translate(124,591) scale(1,1.05)" font-size="22.6" text-anchor="middle" fill="#231f20" stroke="#231f20" stroke-width="0.35">33</text>
<text transform="translate(143,633) scale(1,1.05)" font-size="22.6" text-anchor="middle" fill="#fff" stroke="#fff" stroke-width="3" stroke-linejoin="round">20</text>
<text transform="translate(143,633) scale(1,1.05)" font-size="22.6" text-anchor="middle" fill="#231f20" stroke="#231f20" stroke-width="0.35">20</text>
<text transform="translate(509.5,553) scale(1,1.05)" font-size="22.6" text-anchor="middle" fill="#fff" stroke="#fff" stroke-width="3" stroke-linejoin="round">5</text>
<text transform="translate(509.5,553) scale(1,1.05)" font-size="22.6" text-anchor="middle" fill="#231f20" stroke="#231f20" stroke-width="0.35">5</text>
<text transform="translate(561.5,573.5) scale(1,1.05)" font-size="22.6" text-anchor="middle" fill="#fff" stroke="#fff" stroke-width="3" stroke-linejoin="round">1</text>
<text transform="translate(561.5,573.5) scale(1,1.05)" font-size="22.6" text-anchor="middle" fill="#231f20" stroke="#231f20" stroke-width="0.35">1</text>
<text transform="translate(322,829) scale(1,1.05)" font-size="22.6" text-anchor="middle" fill="#fff" stroke="#fff" stroke-width="3" stroke-linejoin="round">min. 1500</text>
<text transform="translate(322,829) scale(1,1.05)" font-size="22.6" text-anchor="middle" fill="#231f20" stroke="#231f20" stroke-width="0.35">min. 1500</text>
<text transform="translate(270.5,920) scale(1,1.05)" font-size="22.6" text-anchor="middle" fill="#fff" stroke="#fff" stroke-width="3" stroke-linejoin="round">H05 V V - F</text>
<text transform="translate(270.5,920) scale(1,1.05)" font-size="22.6" text-anchor="middle" fill="#231f20" stroke="#231f20" stroke-width="0.35">H05 V V - F</text>
<text transform="translate(798.5,723.5) scale(1,1.05)" font-size="22.6" text-anchor="middle" fill="#fff" stroke="#fff" stroke-width="3" stroke-linejoin="round">245</text>
<text transform="translate(798.5,723.5) scale(1,1.05)" font-size="22.6" text-anchor="middle" fill="#231f20" stroke="#231f20" stroke-width="0.35">245</text>
<text transform="translate(904.5,852) scale(1,1.05)" font-size="22.6" text-anchor="middle" fill="#fff" stroke="#fff" stroke-width="3" stroke-linejoin="round">490</text>
<text transform="translate(904.5,852) scale(1,1.05)" font-size="22.6" text-anchor="middle" fill="#231f20" stroke="#231f20" stroke-width="0.35">490</text>
</svg></body></html>
